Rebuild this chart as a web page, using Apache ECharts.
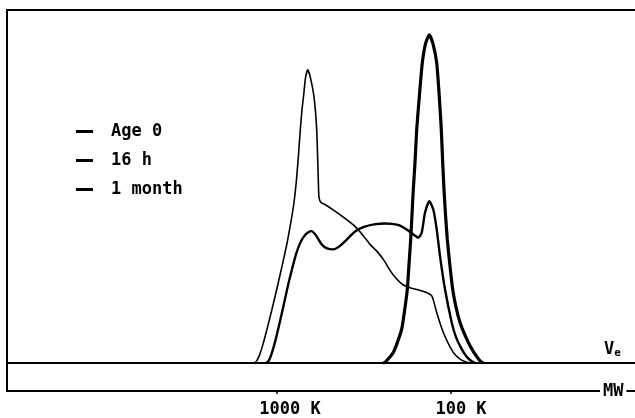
<!DOCTYPE html>
<html>
<head>
<meta charset="utf-8">
<script src="https://cdn.jsdelivr.net/npm/echarts@6/dist/echarts.min.js"></script>
<style>html,body{margin:0;padding:0;background:#fff}#c{width:635px;height:418px}</style>
</head>
<body>
<div id="c"></div>
<script>
// Elution profiles: [Ve (arbitrary units), absorbance (% of full scale)]
const seriesNames = ['Age 0', '16 h', '1 month'];
const age0 = [
  [37.60,0],[37.80,0.20],[38.20,1.41],[38.63,3.02],[39.05,5.93],[39.47,9.60],[39.75,14.69],
  [40.03,20.90],[40.20,27.97],[40.37,35.03],[40.50,42.09],[40.63,49.15],[40.80,56.78],[40.97,66.10],
  [41.23,75.42],[41.53,85.03],[41.85,90.40],[42.23,92.94],[42.60,90.40],[42.97,85.03],[43.23,75.42],
  [43.43,66.10],[43.57,56.78],[43.70,49.15],[43.85,42.09],[44.03,35.03],[44.28,27.97],[44.57,20.90],
  [44.90,15.82],[45.30,11.50],[45.80,7.91],[46.30,4.89],[46.80,2.54],[47.30,0.65],[47.63,0]
];
const h16 = [
  [25.90,0],[26.15,0.56],[26.45,2.54],[26.85,6.50],[27.30,11.86],[27.75,17.51],[28.15,22.60],
  [28.55,27.12],[28.90,30.79],[29.30,33.90],[29.70,35.88],[30.10,37.01],[30.47,37.37],[30.90,36.16],
  [31.47,33.62],[32.00,32.49],[32.63,32.20],[33.30,33.19],[34.00,35.03],[34.80,37.29],[35.70,38.56],
  [36.70,39.27],[37.80,39.55],[39.10,39.12],[39.97,37.85],[40.63,36.44],[41.13,35.51],[41.47,36.92],
  [41.80,42.57],[42.23,45.85],[42.63,43.50],[42.97,37.85],[43.30,30.31],[43.80,20.90],[44.47,11.50],
  [44.90,7.34],[45.47,3.95],[46.00,1.69],[46.63,0.20],[46.90,0]
];
const month1 = [
  [24.70,0],[24.95,0.56],[25.25,2.26],[25.60,5.37],[26.00,9.60],[26.50,15.25],[27.00,21.19],
  [27.50,27.40],[28.00,33.90],[28.40,40.11],[28.70,45.48],[28.95,51.98],[29.15,59.04],[29.33,66.10],
  [29.50,71.75],[29.67,75.99],[29.85,80.79],[30.07,83.05],[30.30,81.36],[30.70,75.42],[30.97,66.10],
  [31.13,51.98],[31.20,46.89],[31.40,45.48],[31.80,44.92],[32.80,43.02],[33.80,40.96],[34.80,38.70],
  [35.60,36.16],[36.30,33.62],[37.00,31.64],[37.70,29.10],[38.30,26.27],[38.90,24.01],[39.60,22.18],
  [40.30,21.33],[41.10,20.76],[42.00,19.92],[42.50,18.93],[42.97,14.32],[43.63,8.67],[44.63,3.02],
  [45.30,1.13],[45.97,0.20],[46.30,0]
];
// MW axis (log10 MW), linear in Ve
const mwTicks = [6, 5];
const mwTickLabels = ['1000 K', '100 K'];
const veRange = [0, 62.8];
const logMwRange = [3.9425, 7.5517];

const FONT = 'DejaVu Sans Mono';
const chart = echarts.init(document.getElementById('c'));
const lineCfg = (name, data, w) => ({
  name, type: 'line', data, xAxisIndex: 0, yAxisIndex: 0,
  showSymbol: false, smooth: 0.2, lineStyle: {color: '#000', width: w}, itemStyle: {color: '#000'},
  z: 5
});
chart.setOption({
  animation: false,
  backgroundColor: '#fff',
  grid: {left: 7, right: 0, top: 10, bottom: 26},
  legend: {
    orient: 'vertical', left: 76, top: 123, padding: 0,
    itemWidth: 17, itemHeight: 3, itemGap: 12, icon: 'rect',
    data: seriesNames,
    textStyle: {fontFamily: FONT, fontWeight: 'bold', fontSize: 17, color: '#000', padding: [0, 0, 0, 13]}
  },
  xAxis: [
    {type: 'value', min: veRange[0], max: veRange[1], position: 'bottom',
     axisLine: {onZero: true, lineStyle: {color: '#000', width: 2}},
     axisTick: {show: false}, axisLabel: {show: false}, splitLine: {show: false}},
    {type: 'value', min: logMwRange[0], max: logMwRange[1], inverse: true, position: 'bottom',
     axisLine: {onZero: false, lineStyle: {color: '#000', width: 2}},
     axisTick: {show: true, length: 3, customValues: mwTicks, lineStyle: {color: '#000', width: 1.5}},
     axisLabel: {show: true, margin: 10, customValues: mwTicks, color: '#000',
       fontFamily: FONT, fontWeight: 'bold', fontSize: 17,
       formatter: v => v === mwTicks[0] ? '{a|' + mwTickLabels[0] + '}' : '{b|' + mwTickLabels[1] + '}',
       rich: {a: {fontFamily: FONT, fontWeight: 'bold', fontSize: 17, color: '#000', padding: [0, 0, 0, 26]},
              b: {fontFamily: FONT, fontWeight: 'bold', fontSize: 17, color: '#000', padding: [0, 0, 0, 20]}}},
     splitLine: {show: false}},
    {type: 'value', min: veRange[0], max: veRange[1], position: 'top',
     axisLine: {onZero: false, lineStyle: {color: '#000', width: 2}},
     axisTick: {show: false}, axisLabel: {show: false}, splitLine: {show: false}}
  ],
  yAxis: {type: 'value', min: -7.91, max: 100,
    axisLine: {show: true, onZero: false, lineStyle: {color: '#000', width: 2}},
    axisTick: {show: false}, axisLabel: {show: false}, splitLine: {show: false}},
  graphic: [
    {type: 'text', left: 604, top: 341, z: 10,
     style: {text: '{v|V}{e|e}', rich: {
       v: {fontFamily: FONT, fontWeight: 'bold', fontSize: 17, fill: '#000'},
       e: {fontFamily: FONT, fontWeight: 'bold', fontSize: 11, fill: '#000', padding: [8, 0, 0, 0]}}}},
    {type: 'text', left: 600, top: 383, z: 10,
     style: {text: 'MW', fontFamily: FONT, fontWeight: 'bold', fontSize: 17, fill: '#000',
       backgroundColor: '#fff', padding: [0, 3, 0, 3]}}
  ],
  series: [
    lineCfg(seriesNames[0], age0, 3.2),
    lineCfg(seriesNames[1], h16, 2.4),
    lineCfg(seriesNames[2], month1, 1.6)
  ]
});
</script>
</body>
</html>
